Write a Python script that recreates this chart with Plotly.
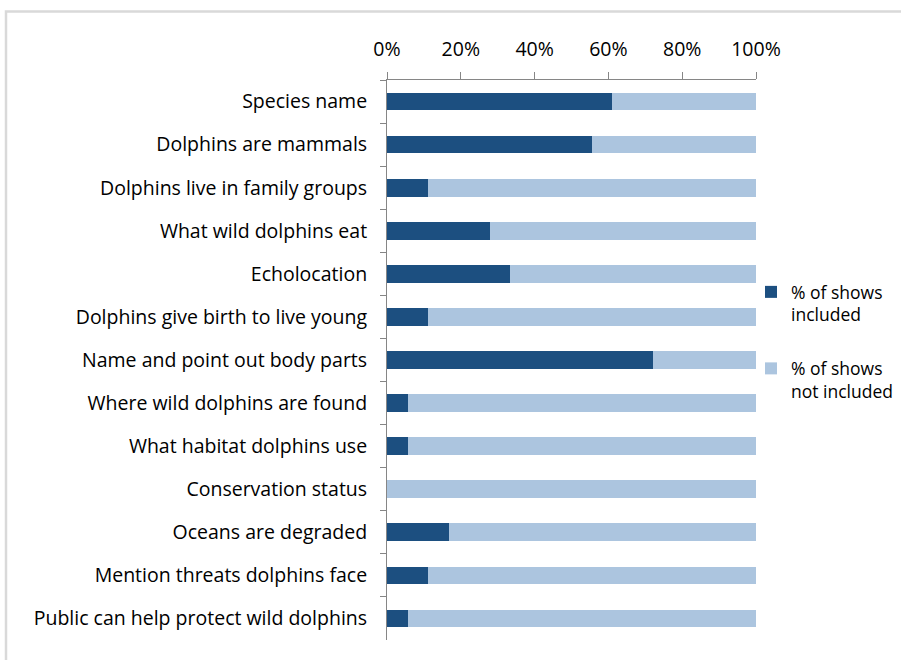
import plotly.graph_objects as go

categories = [
    "Species name",
    "Dolphins are mammals",
    "Dolphins live in family groups",
    "What wild dolphins eat",
    "Echolocation",
    "Dolphins give birth to live young",
    "Name and point out body parts",
    "Where wild dolphins are found",
    "What habitat dolphins use",
    "Conservation status",
    "Oceans are degraded",
    "Mention threats dolphins face",
    "Public can help protect wild dolphins",
]
included = [61.1, 55.6, 11.1, 27.8, 33.3, 11.1, 72.2, 5.6, 5.6, 0.0, 16.7, 11.1, 5.6]
not_included = [round(100 - v, 1) for v in included]

series_names = ["% of shows<br>included", "% of shows<br>not included"]
x_ticks = [0, 20, 40, 60, 80, 100]
x_tick_labels = ["0%", "20%", "40%", "60%", "80%", "100%"]

DARK = "#1c4f80"
LIGHT = "#acc5df"
FONT = "'Open Sans', sans-serif"
FS = 19.5

fig = go.Figure()
fig.add_trace(go.Bar(
    y=categories, x=included, orientation="h", name=series_names[0],
    marker=dict(color=DARK, line=dict(width=0)), legendgroup="a",
))
fig.add_trace(go.Bar(
    y=categories, x=not_included, orientation="h", name=series_names[1],
    marker=dict(color=LIGHT, line=dict(width=0)), legendgroup="b",
))

W, H = 901, 660
L, R, T, B = 387, 145, 80, 20
pw, ph = W - L - R, H - T - B

def px_x(p):
    return (p - L) / pw

def px_y(p):
    return 1 - (p - T) / ph

fig.update_layout(
    width=W, height=H,
    margin=dict(l=L, r=R, t=T, b=B, autoexpand=False),
    barmode="stack",
    bargap=0.59,
    paper_bgcolor="white",
    plot_bgcolor="white",
    font=dict(family=FONT, size=FS, color="#000000"),
    showlegend=True,
    legend=dict(
        x=px_x(751), y=px_y(274), xanchor="left", yanchor="top",
        traceorder="grouped", tracegroupgap=28, valign="top",
        font=dict(family=FONT, size=17.5, color="#000000"),
        itemwidth=30, bgcolor="rgba(0,0,0,0)",
    ),
    xaxis=dict(
        side="top", range=[0, 100], tickvals=x_ticks, ticktext=x_tick_labels,
        showgrid=False, zeroline=False,
        showline=True, linecolor="#868686", linewidth=1,
        ticks="outside", ticklen=7, tickcolor="#868686",
        ticklabelstandoff=8,
    ),
    yaxis=dict(
        type="category", autorange="reversed",
        showgrid=False, zeroline=False,
        showline=True, linecolor="#868686", linewidth=1,
        ticks="outside", ticklen=6, tickcolor="#868686",
        tickson="boundaries", ticklabelstandoff=15,
    ),
    shapes=[dict(
        type="rect", xref="paper", yref="paper",
        x0=px_x(6), x1=px_x(910), y0=px_y(670), y1=px_y(11.5),
        line=dict(color="#d9d9d9", width=2.5), fillcolor="rgba(0,0,0,0)",
        layer="below",
    )],
)

fig.write_html(
    "out.html",
    config={"displayModeBar": False},
    post_script="document.body.style.margin='0';document.body.style.overflow='hidden';",
)
